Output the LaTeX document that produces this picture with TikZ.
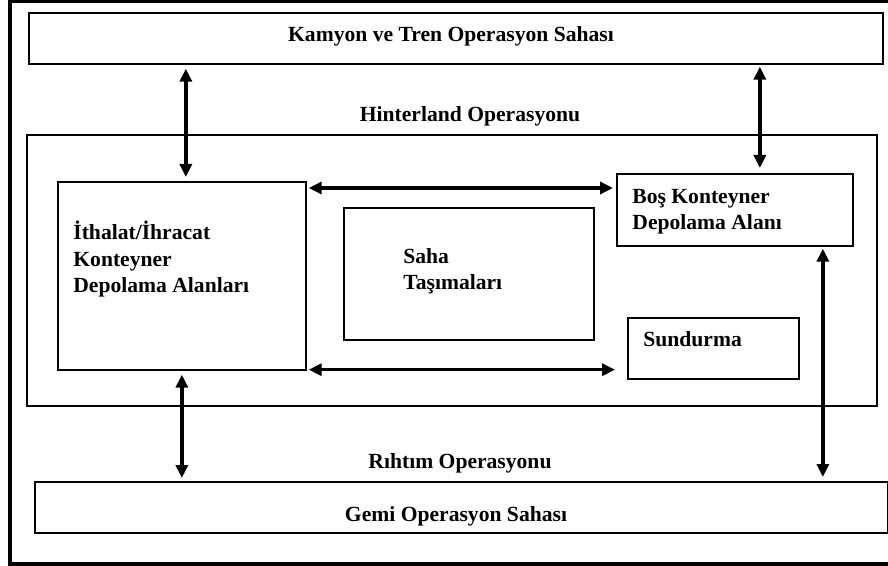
\documentclass[tikz,border=0pt]{standalone}
\usepackage{fontspec}
\setmainfont{Liberation Serif}
\usepackage{xcolor}
\usetikzlibrary{arrows.meta,positioning,calc}

\tikzset{
	box/.style={draw, line width=0.85pt, inner sep=0pt, anchor=north west},
	lbl/.style={font=\bfseries\fontsize{10.8}{13.25}\selectfont, inner sep=0pt, align=left},
	arr/.style={line width=1.8pt, {Triangle[length=6.5pt,width=6pt]}-{Triangle[length=6.5pt,width=6pt]}},
}

\begin{document}
\begin{tikzpicture}[x=0.5pt,y=-0.5pt]
	\useasboundingbox (0,0) rectangle (888,566);
	\draw[line width=2pt] (895,1.5)--(10,1.5)--(10,564)--(895,564);

	\node[box, minimum width=427pt, minimum height=25.5pt] (kamyon) at (28,12) {};
	\node[box, minimum width=425pt, minimum height=135.5pt] (hinter) at (26,134) {};
	\node[box, minimum width=124pt, minimum height=94pt] (ithalat) at (57,181) {};
	\node[box, minimum width=125pt, minimum height=66pt] (saha) at (343,207) {};
	\node[box, minimum width=118pt, minimum height=36pt] (bos) at (616,173) {};
	\node[box, minimum width=85.5pt, minimum height=30.5pt] (sundurma) at (627,317) {};
	\node[box, minimum width=426.5pt, minimum height=25.5pt] (gemi) at (34,481) {};

	% base is the last line of each label
	\node[lbl, anchor=base] (kamyontxt) at (451,42) {Kamyon ve Tren Operasyon Sahası};
	\node[lbl, anchor=base] (hintertxt) at (470,122) {Hinterland Operasyonu};
	\node[lbl, anchor=base west] (ithalattxt) at (73,293) {İthalat/İhracat\\Konteyner\\Depolama Alanları};
	\node[lbl, anchor=base west] (sahatxt) at (403,290) {Saha\\Taşımaları};
	\node[lbl, anchor=base west] (bostxt) at (632,230) {Boş Konteyner\\Depolama Alanı};
	\node[lbl, anchor=base west] (sundurmatxt) at (643,347) {Sundurma};
	\node[lbl, anchor=base] (rihtimtxt) at (460,468) {Rıhtım Operasyonu};
	\node[lbl, anchor=base] (gemitxt) at (456,521) {Gemi Operasyon Sahası};

	\draw[arr, shorten <=2pt, shorten >=2pt] ([xshift=2pt]kamyon.south -| ithalat.north) -- ([xshift=2pt]ithalat.north);
	\draw[arr, shorten <=1pt, shorten >=2.5pt] ([xshift=12.5pt]kamyon.south -| bos.north) -- ([xshift=12.5pt]bos.north);
	\draw[arr, shorten <=1pt, shorten >=1.5pt] ([yshift=-3.5pt]ithalat.north east) -- ([yshift=-3.5pt]ithalat.north east -| bos.west);
	\draw[arr, shorten <=1pt, shorten >=6pt] ([yshift=0.5pt]ithalat.south east) -- ([yshift=0.5pt]ithalat.south east -| sundurma.west);
	\draw[arr, shorten <=2pt, shorten >=1.5pt] (ithalat.south) -- (ithalat.south |- gemi.north);
	\draw[arr, shorten <=1pt, shorten >=2pt] ([xshift=44pt]bos.south) -- ([xshift=44pt]bos.south |- gemi.north);
\end{tikzpicture}
\end{document}
